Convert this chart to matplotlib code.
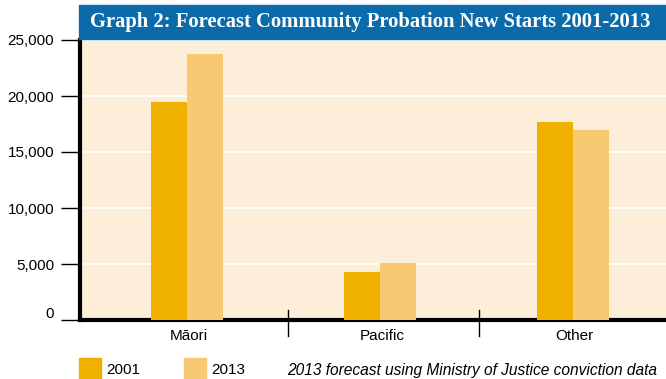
import matplotlib.pyplot as plt
import matplotlib.transforms as mtransforms
from matplotlib.patches import Rectangle

groups = ["Māori", "Pacific", "Other"]
starts_2001 = [19500, 4250, 17650]
starts_2013 = [23750, 5050, 16950]
y_ticks = [0, 5000, 10000, 15000, 20000, 25000]
y_labels = ["0", "5,000", "10,000", "15,000", "20,000", "25,000"]

W, H = 666, 379
fig = plt.figure(figsize=(W / 100, H / 100), dpi=100)
fig.patch.set_facecolor("white")

ax = fig.add_axes([80 / W, (H - 320) / H, 586 / W, 280 / H])
ax.set_facecolor("#fdeed9")

bw = 0.187
pos = list(range(len(groups)))
ax.bar([p - bw / 2 for p in pos], starts_2001, bw, color="#f0b000", zorder=3)
ax.bar([p + bw / 2 for p in pos], starts_2013, bw, color="#f8c872", zorder=3)

ax.set_xlim(-0.557, 2.484)
ax.set_ylim(0, 25000)
ax.set_yticks(y_ticks)
ax.set_yticklabels(y_labels)
for t in y_ticks[1:]:
    ax.axhline(t, color="white", lw=1.2, zorder=1)

ax.tick_params(axis="y", length=13.7, width=1, direction="out", pad=5,
               labelsize=11, colors="black")
ax.set_xticks([])
for s in ["top", "right"]:
    ax.spines[s].set_visible(False)
for s in ["left", "bottom"]:
    ax.spines[s].set_linewidth(3)

for lab in ax.get_yticklabels():
    lab.set_family("Liberation Sans")
# the zero label sits a little above its tick
zero = ax.get_yticklabels()[0]
zero.set_transform(zero.get_transform() +
                   mtransforms.ScaledTranslation(0, 7 / 100, fig.dpi_scale_trans))

# group labels and separators under the axis
for p, g in zip(pos, groups):
    ax.text(p + 0.01, -1400, g, ha="center", va="center", fontsize=11,
            family="Liberation Sans", clip_on=False)
for b in [0.521, 1.515]:
    ax.plot([b, b], [900, -1400], color="black", lw=1, clip_on=False, zorder=5)

# title banner
fig.patches.append(Rectangle((78.5 / W, (H - 39.3) / H), (666 - 78.5) / W, 34.3 / H,
                             transform=fig.transFigure, color="#0b6aa9"))
fig.text(370.5 / W, (H - 22) / H, "Graph 2: Forecast Community Probation New Starts 2001-2013",
         ha="center", va="center", color="white", fontsize=14.9,
         family="Liberation Serif", weight="bold")

# legend
for x0, c, lab in [(79, "#f0b000", "2001"), (184, "#f8c872", "2013")]:
    fig.patches.append(Rectangle((x0 / W, 0), 22 / W, 21 / H,
                                 transform=fig.transFigure, color=c))
    fig.text((x0 + 27) / W, 9 / H, lab, ha="left", va="center", fontsize=11,
             family="Liberation Sans")
fig.text(287 / W, 9 / H, "2013 forecast using Ministry of Justice conviction data",
         ha="left", va="center", fontsize=11.2, style="italic", family="Liberation Sans")

fig.savefig("out.png", dpi=100)
